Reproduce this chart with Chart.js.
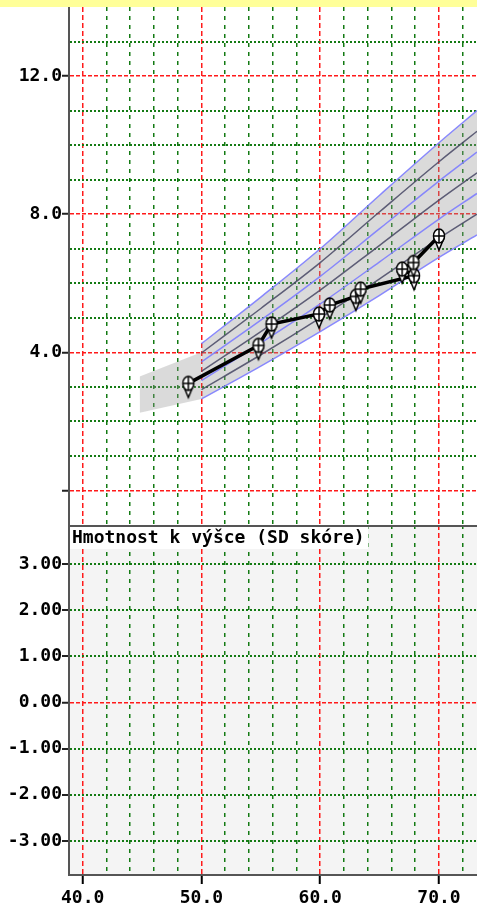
<!DOCTYPE html>
<html>
<head>
<meta charset="utf-8">
<script src="https://cdn.jsdelivr.net/npm/chart.js@4.4.1/dist/chart.umd.min.js"></script>
<style>
  body { margin: 0; background: #fff; width: 477px; height: 910px; overflow: hidden; }
  #strip { height: 7px; background: #ffff99; }
  canvas { display: block; }
</style>
</head>
<body>
<div id="strip"></div>
<canvas id="top" width="477" height="518"></canvas>
<canvas id="bottom" width="477" height="385"></canvas>
<script>
// measurements: body length (cm) -> weight (kg)
const lengths = [48.9, 54.8, 55.9, 59.9, 60.8, 63.0, 63.4, 67.9, 66.9, 67.85, 70.0];
const weights = [3.1, 4.2, 4.82, 5.11, 5.37, 5.62, 5.83, 6.22, 6.41, 6.6, 7.37];

// percentile curves, read at these lengths
const curveX = [50, 55, 60, 65, 70, 73.2];
const p3  = [2.65, 3.60, 4.60, 5.65, 6.75, 7.40];
const p10 = [2.92, 3.93, 5.00, 6.13, 7.30, 8.00];
const p25 = [3.18, 4.27, 5.40, 6.62, 7.86, 8.60];
const p50 = [3.45, 4.60, 5.80, 7.10, 8.41, 9.20];
const p75 = [3.72, 4.93, 6.20, 7.58, 8.96, 9.80];
const p90 = [3.98, 5.27, 6.60, 8.07, 9.52, 10.40];
const p97 = [4.25, 5.60, 7.00, 8.55, 10.07, 11.00];

// gray area left of 50 cm
const preX = [44.8, 50];
const preLow = [2.25, 2.65];
const preHigh = [3.3, 4.0];

// ticks
const xGrid = [40, 42, 44, 46, 48, 50, 52, 54, 56, 58, 60, 62, 64, 66, 68, 70, 72];
const xMajor = [40, 50, 60, 70];
const wGrid = [0, 1, 2, 3, 4, 5, 6, 7, 8, 9, 10, 11, 12, 13];
const wMajor = [0, 4, 8, 12];
const wLabels = [4, 8, 12];
const sdGrid = [-3, -2, -1, 0, 1, 2, 3];
const sdMajor = [0];

const RED = '#ff1a1a';
const GREEN = '#137a13';

Chart.defaults.font.family = 'DejaVu Sans Mono';
Chart.defaults.font.size = 18;
Chart.defaults.font.weight = 'bold';
Chart.defaults.color = '#000';

function tv(ctx) { return ctx.tick ? ctx.tick.value : null; }
function setTicks(list) {
  return axis => { axis.ticks = list.map(v => ({ value: v })); };
}
// fixed box sizes, no extra label padding around the plot area
function fixY(s) {
  s.width = 69;
  s.paddingTop = s.paddingBottom = s.paddingLeft = s.paddingRight = 0;
}
function fixX(h) {
  return s => {
    s.height = h;
    s.paddingTop = s.paddingBottom = s.paddingLeft = s.paddingRight = 0;
  };
}
function xGridOpts(showTicks) {
  return {
    color: ctx => xMajor.includes(tv(ctx)) ? RED : GREEN,
    lineWidth: 1.5,
    drawTicks: showTicks,
    tickLength: 9,
    tickWidth: 2,
    tickColor: ctx => xMajor.includes(tv(ctx)) ? '#000' : 'rgba(0,0,0,0)'
  };
}
function xDash(ctx) { return xMajor.includes(tv(ctx)) ? [5, 3] : [4, 5]; }

function makeMarker() {
  const c = document.createElement('canvas');
  c.width = 16; c.height = 38;
  const g = c.getContext('2d');
  const cx = 8, cy = 19;
  g.lineWidth = 1.5; g.strokeStyle = '#000'; g.fillStyle = '#fff';
  g.beginPath();
  g.moveTo(cx, cy - 6); g.lineTo(cx + 5, cy + 2); g.lineTo(cx, cy + 14); g.lineTo(cx - 5, cy + 2);
  g.closePath(); g.fill(); g.stroke();
  g.beginPath(); g.ellipse(cx, cy, 5.5, 7, 0, 0, Math.PI * 2); g.fill(); g.stroke();
  g.beginPath();
  g.moveTo(cx, cy - 7); g.lineTo(cx, cy + 7);
  g.moveTo(cx - 5.5, cy); g.lineTo(cx + 5.5, cy);
  g.stroke();
  return c;
}

function curve(ys, color) {
  return {
    data: curveX.map((x, i) => ({ x: x, y: ys[i] })),
    showLine: true, borderColor: color, borderWidth: 1.5,
    pointRadius: 0, cubicInterpolationMode: 'monotone'
  };
}

const BLUE = 'rgba(125,125,255,0.9)';
const DARK = 'rgba(70,70,100,0.85)';
const band97 = curve(p97, BLUE);
band97.fill = '-6';
band97.backgroundColor = 'rgba(150,150,150,0.35)';

const xMin = 38.85, xMax = 73.2;

new Chart(document.getElementById('top'), {
  type: 'scatter',
  data: {
    datasets: [
      {
        data: lengths.map((x, i) => ({ x: x, y: weights[i] })),
        showLine: true, borderColor: '#000', borderWidth: 3.5,
        pointStyle: makeMarker(), pointRadius: 6, pointHoverRadius: 6
      },
      curve(p3, BLUE), curve(p10, DARK), curve(p25, BLUE), curve(p50, DARK),
      curve(p75, BLUE), curve(p90, DARK), band97,
      { data: preX.map((x, i) => ({ x: x, y: preLow[i] })), showLine: true, borderWidth: 0, pointRadius: 0 },
      { data: preX.map((x, i) => ({ x: x, y: preHigh[i] })), showLine: true, borderWidth: 0, pointRadius: 0,
        fill: '-1', backgroundColor: 'rgba(150,150,150,0.35)' }
    ]
  },
  options: {
    responsive: false, animation: false,
    layout: { padding: 0, autoPadding: false },
    plugins: { legend: { display: false }, tooltip: { enabled: false } },
    scales: {
      x: {
        type: 'linear', min: xMin, max: xMax,
        afterBuildTicks: setTicks(xGrid),
        afterFit: fixX(0),
        ticks: { display: false, autoSkip: false },
        grid: xGridOpts(false),
        border: { display: false, dash: xDash }
      },
      y: {
        type: 'linear', min: -1, max: 14,
        afterBuildTicks: setTicks(wGrid),
        afterFit: fixY,
        ticks: { autoSkip: false, padding: 0, callback: v => wLabels.includes(v) ? v.toFixed(1) : '' },
        grid: {
          color: ctx => wMajor.includes(tv(ctx)) ? RED : GREEN,
          lineWidth: ctx => wMajor.includes(tv(ctx)) ? 1.5 : 2,
          tickLength: 7, tickWidth: 2,
          tickColor: ctx => wMajor.includes(tv(ctx)) ? '#222' : 'rgba(0,0,0,0)'
        },
        border: { color: '#555', width: 2, dash: ctx => wMajor.includes(tv(ctx)) ? [4, 2] : [2, 2] }
      }
    }
  }
});

// lower panel: SD score, empty
const sdPanel = {
  id: 'sdPanel',
  beforeDraw(chart) {
    const a = chart.chartArea, c = chart.ctx;
    c.save();
    c.fillStyle = '#f4f4f4';
    c.fillRect(a.left, a.top, a.right - a.left, a.bottom - a.top);
    c.restore();
  },
  afterDraw(chart) {
    const a = chart.chartArea, c = chart.ctx;
    c.save();
    c.fillStyle = '#555';
    c.fillRect(a.left - 1, 0, a.right - a.left + 1, 2);
    c.fillStyle = '#fff';
    c.fillRect(a.left + 1, 2, 298, 22);
    c.fillStyle = '#000';
    c.font = 'bold 18px "DejaVu Sans Mono"';
    c.textBaseline = 'middle';
    c.fillText('Hmotnost k výšce (SD skóre)', a.left + 3, 13);
    c.restore();
  }
};

new Chart(document.getElementById('bottom'), {
  type: 'scatter',
  data: { datasets: [] },
  plugins: [sdPanel],
  options: {
    responsive: false, animation: false,
    layout: { padding: 0, autoPadding: false },
    plugins: { legend: { display: false }, tooltip: { enabled: false } },
    scales: {
      x: {
        type: 'linear', min: xMin, max: xMax,
        afterBuildTicks: setTicks(xGrid),
        afterFit: fixX(35),
        ticks: { autoSkip: false, maxRotation: 0, padding: 4, callback: v => xMajor.includes(v) ? v.toFixed(1) : '' },
        grid: xGridOpts(true),
        border: { color: '#555', width: 2, dash: xDash }
      },
      y: {
        type: 'linear', min: -3.74, max: 3.85,
        afterBuildTicks: setTicks(sdGrid),
        afterFit: fixY,
        ticks: { autoSkip: false, padding: 0, callback: v => v.toFixed(2) },
        grid: {
          color: ctx => sdMajor.includes(tv(ctx)) ? RED : GREEN,
          lineWidth: ctx => sdMajor.includes(tv(ctx)) ? 1.5 : 2,
          tickLength: 7, tickWidth: 2, tickColor: '#222'
        },
        border: { color: '#555', width: 2, dash: ctx => sdMajor.includes(tv(ctx)) ? [4, 2] : [2, 2] }
      }
    }
  }
});
</script>
</body>
</html>
